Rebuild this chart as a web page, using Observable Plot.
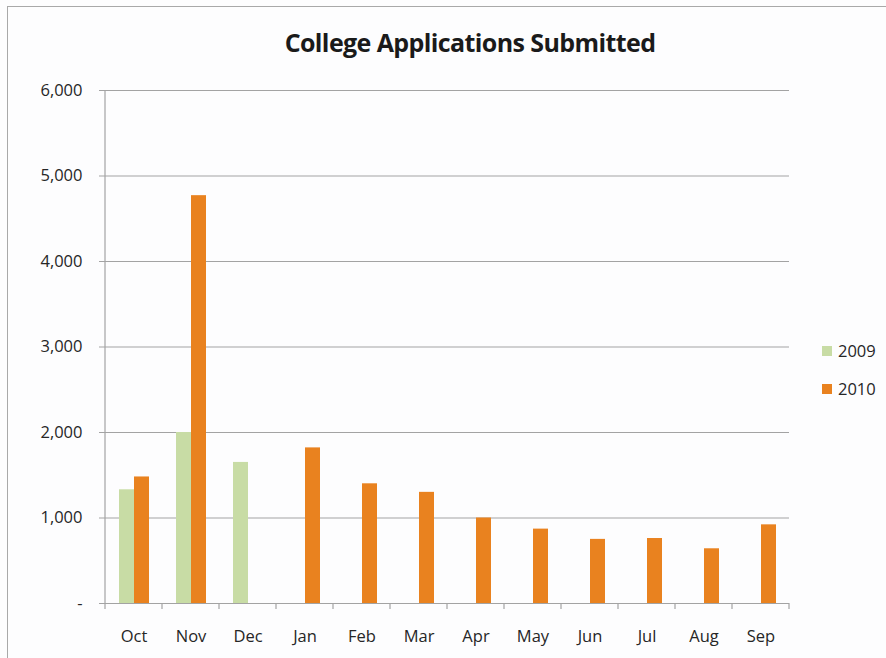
<!DOCTYPE html>
<html><head><meta charset="utf-8">
<script src="https://cdn.jsdelivr.net/npm/d3@7"></script>
<script src="https://cdn.jsdelivr.net/npm/@observablehq/plot@0.6"></script>
<style>
body{margin:0;background:#fff;}
#wrap{position:relative;width:886px;height:658px;overflow:hidden;background:#fdfdfe;font-family:"Open Sans",sans-serif;color:#262626;}
#border{position:absolute;left:7px;top:6px;width:1000px;height:1000px;border-left:1.5px solid #a9a9a9;border-top:1.5px solid #a9a9a9;pointer-events:none;}
#title{box-sizing:border-box;height:70px;padding-top:27px;padding-left:54px;text-align:center;font-weight:700;font-size:25px;line-height:30px;letter-spacing:-0.6px;color:#1a1a1a;}
#legend{position:absolute;left:822px;top:340px;font-size:16.5px;}
.item{display:flex;align-items:center;height:21px;margin-bottom:17px;}
.sw{width:10px;height:10px;margin-right:6px;}
</style>
</head><body>
<div id="wrap"><div id="border"></div><div id="title">College Applications Submitted</div><div id="chart"></div><div id="legend"></div></div>
<script>
const months = ["Oct","Nov","Dec","Jan","Feb","Mar","Apr","May","Jun","Jul","Aug","Sep"];
const years = ["2009","2010"];
const colors = ["#c8dca5","#e9821f"];
const apps2009 = [1330, 2000, 1650, null, null, null, null, null, null, null, null, null];
const apps2010 = [1480, 4770, null, 1820, 1400, 1300, 1000, 870, 750, 760, 640, 920];
const yTicks = [0, 1000, 2000, 3000, 4000, 5000, 6000];
const yTickLabels = ["-", "1,000", "2,000", "3,000", "4,000", "5,000", "6,000"];
const axisColor = "#a3a3a3";

const data = [];
months.forEach((m, i) => {
  if (apps2009[i] != null) data.push({month: m, year: "2009", value: apps2009[i]});
  if (apps2010[i] != null) data.push({month: m, year: "2010", value: apps2010[i]});
});

const chart = Plot.plot({
  width: 886, height: 588,
  marginTop: 20, marginBottom: 55, marginLeft: 103, marginRight: 96,
  style: {fontFamily: "Open Sans", fontSize: "16.5px", color: "#262626", background: "transparent", overflow: "visible"},
  fx: {domain: months, padding: 0, label: null, axis: null},
  x: {domain: years, paddingInner: 0, paddingOuter: 0.79, axis: null},
  y: {domain: [0, 6000], axis: null},
  color: {domain: years, range: colors},
  marks: [
    Plot.gridY(yTicks, {stroke: axisColor, strokeOpacity: 1, strokeWidth: 1.2}),
    Plot.barY(data, {fx: "month", x: "year", y: "value", fill: "year"}),
    Plot.ruleY([0], {stroke: axisColor, strokeWidth: 1.2}),
    Plot.axisY(yTicks, {tickSize: 6, tickPadding: 17, stroke: axisColor, fill: "#262626", label: null,
      tickFormat: d => yTickLabels[yTicks.indexOf(d)]}),
    Plot.axisFx({anchor: "bottom", tickSize: 0, tickPadding: 27, label: null, fill: "#262626"})
  ]
});
document.getElementById("chart").appendChild(chart);

// y-axis line and category boundary ticks, placed from the plot's own scales
const fx = chart.scale("fx"), y = chart.scale("y");
const svg = d3.select(chart);
const g = svg.append("g").attr("stroke", axisColor).attr("stroke-width", 1.2);
const x0 = fx.apply(months[0]);
const y0 = y.apply(0);
g.append("line").attr("x1", x0).attr("x2", x0).attr("y1", y.apply(6000)).attr("y2", y0 + 6);
for (let i = 1; i <= months.length; i++) {
  const xb = x0 + i * fx.step;
  g.append("line").attr("x1", xb).attr("x2", xb).attr("y1", y0).attr("y2", y0 + 6);
}

// legend
const legend = d3.select("#legend");
years.forEach((yr, i) => {
  const it = legend.append("div").attr("class", "item");
  it.append("div").attr("class", "sw").style("background", colors[i]);
  it.append("span").text(yr);
});
</script>
</body></html>
